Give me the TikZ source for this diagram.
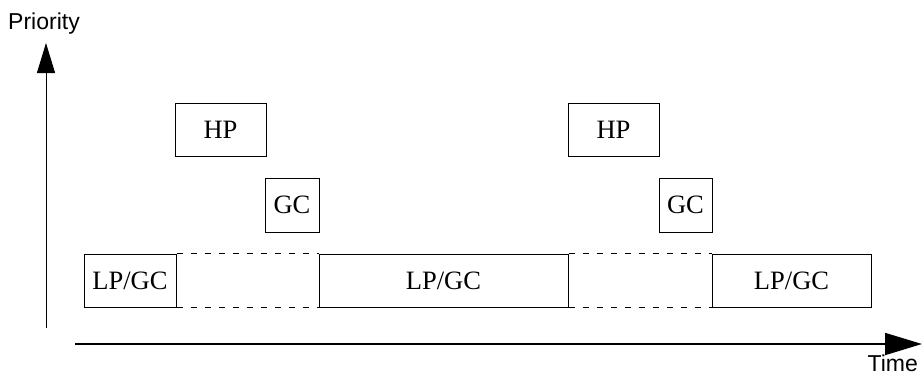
\documentclass[tikz,border=0pt]{standalone}
\usepackage{fontspec}
\setmainfont{Liberation Serif}
\setsansfont{Liberation Sans}
\usetikzlibrary{arrows.meta}

\begin{document}
\begin{tikzpicture}[x=1pt,y=1pt,
  box/.style={draw,line width=1pt,inner sep=0pt,minimum height=53pt,font=\fontsize{26.5}{30}\selectfont},
  gap/.style={line width=0.9pt,dash pattern=on 6pt off 8pt},
  axis/.style={inner sep=0pt,font=\sffamily\fontsize{23}{26}\selectfont}]
\useasboundingbox (0,0) rectangle (924,376);

\node[box,minimum width=91pt] (h1) at (220.5,246.5) {HP};
\node[box,minimum width=54pt,minimum height=54pt] (g1) at (292,171) {GC};
\node[box,minimum width=92pt] (l1) at (130,95.5) {LP/GC};

\node[box,minimum width=249pt] (l2) at (443.5,95.5) {LP/GC};
\node[box,minimum width=91pt] (h2) at (613.5,246.5) {HP};
\node[box,minimum width=53pt,minimum height=54pt] (g2) at (685.5,171) {GC};
\node[box,minimum width=159pt] (l3) at (791.5,95.5) {LP/GC};

\draw[gap] (l1.north east)--(l2.north west);
\draw[gap] (l1.south east)--(l2.south west);
\draw[gap] (l2.north east)--(l3.north west);
\draw[gap] (l2.south east)--(l3.south west);

\coordinate (y0) at (46,48);
\coordinate (y1) at (46,333);
\coordinate (x0) at (75,32);
\coordinate (x1) at (922,32);
\draw[line width=1pt,-{Triangle[length=30pt,width=18pt]}] (y0)--(y1);
\draw[line width=1.8pt,-{Triangle[length=37pt,width=22pt]}] (x0)--(x1);

\node[axis,anchor=base west] (p) at (8,347) {Priority};
\node[axis,anchor=base east] (t) at (918,5) {Time};
\end{tikzpicture}
\end{document}
